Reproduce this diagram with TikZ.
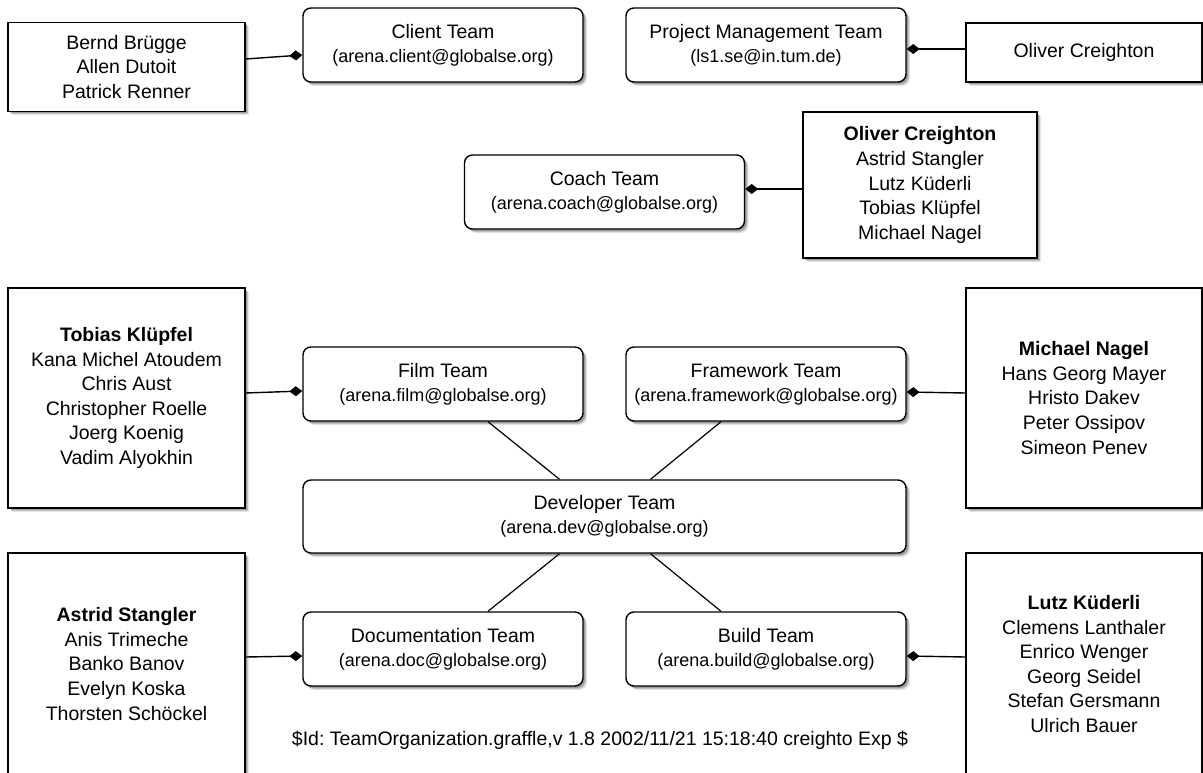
\documentclass[tikz,border=0pt]{standalone}
\usepackage{fontspec}
\setmainfont{Liberation Sans}
\usetikzlibrary{shadows,arrows.meta}
\frenchspacing
\newcommand{\mailtxt}[1]{{\fontsize{18}{24}\selectfont #1}}
\tikzset{
  basebox/.style={draw=black, line width=1.4pt, fill=white, inner sep=0pt, align=center,
    drop shadow={shadow xshift=4pt, shadow yshift=-4pt, opacity=0.10, fill=black},
    drop shadow={shadow xshift=3pt, shadow yshift=-3pt, opacity=0.15, fill=black},
    drop shadow={shadow xshift=2pt, shadow yshift=-2pt, opacity=0.2, fill=black}},
  teambox/.style={basebox, rounded corners=8pt, minimum width=280pt, minimum height=74pt,
    font=\fontsize{19.5}{24}\selectfont},
  personbox/.style={basebox, minimum width=237pt, font=\fontsize{19.5}{24.6}\selectfont},
  comp/.style={line width=1.4pt, -{Diamond[length=13pt,width=10pt]}},
  link/.style={line width=1.2pt},
  idtext/.style={font=\fontsize{19.5}{24}\selectfont\frenchspacing, inner sep=0pt}
}
\begin{document}
\begin{tikzpicture}[x=1pt,y=-1pt]
\useasboundingbox (0,0) rectangle (1203,773);
\clip (0,0) rectangle (1203,773);
% team boxes
\node[teambox] (client) at (443,45) {Client Team\\\mailtxt{(arena.client@globalse.org)}};
\node[teambox] (pm) at (766,45) {Project Management Team\\\mailtxt{(ls1.se@in.tum.de)}};
\node[teambox] (coach) at (604.5,192) {Coach Team\\\mailtxt{(arena.coach@globalse.org)}};
\node[teambox] (film) at (443,384) {Film Team\\\mailtxt{(arena.film@globalse.org)}};
\node[teambox] (framework) at (766,384) {Framework Team\\\mailtxt{(arena.framework@globalse.org)}};
\node[teambox, minimum width=603pt, minimum height=73pt] (dev) at (604.5,516.5) {Developer Team\\\mailtxt{(arena.dev@globalse.org)}};
\node[teambox] (doc) at (443,649) {Documentation Team\\\mailtxt{(arena.doc@globalse.org)}};
\node[teambox] (build) at (766,649) {Build Team\\\mailtxt{(arena.build@globalse.org)}};
% person boxes
\node[personbox, minimum height=89pt] (bernd) at (126.5,67) {Bernd Brügge\\Allen Dutoit\\Patrick Renner};
\node[personbox, minimum width=236pt, minimum height=59pt] (olivers) at (1084,52.5) {Oliver Creighton};
\node[personbox, minimum width=234pt, minimum height=146pt] (oliverl) at (920,185) {\textbf{Oliver Creighton}\\Astrid Stangler\\Lutz Küderli\\Tobias Klüpfel\\Michael Nagel};
\node[personbox, minimum height=220pt] (tobias) at (126.5,398) {\textbf{Tobias Klüpfel}\\Kana Michel Atoudem\\Chris Aust\\Christopher Roelle\\Joerg Koenig\\Vadim Alyokhin};
\node[personbox, minimum width=236pt, minimum height=220pt] (michael) at (1084,398) {\textbf{Michael Nagel}\\Hans Georg Mayer\\Hristo Dakev\\Peter Ossipov\\Simeon Penev};
\node[personbox, minimum height=222pt] (astrid) at (126.5,664) {\textbf{Astrid Stangler}\\Anis Trimeche\\Banko Banov\\Evelyn Koska\\Thorsten Schöckel};
\node[personbox, minimum width=236pt, minimum height=222pt] (lutz) at (1084,664) {\textbf{Lutz Küderli}\\Clemens Lanthaler\\Enrico Wenger\\Georg Seidel\\Stefan Gersmann\\Ulrich Bauer};
% id text
\node[idtext] (idline) at (600,740) {\$Id: TeamOrganization.graffle,v 1.8 2002/11/21 15:18:40 creighto Exp \$};
% composition connectors
\draw[comp] ([yshift=8pt]bernd.east) -- ([yshift=-10pt]client.west);
\draw[comp] ([yshift=3.5pt]olivers.west) -- ([yshift=-4pt]pm.east);
\draw[comp] ([yshift=-4pt]oliverl.west) -- ([yshift=3pt]coach.east);
\draw[comp] ([yshift=5pt]tobias.east) -- ([yshift=-7pt]film.west);
\draw[comp] ([yshift=5pt]michael.west) -- ([yshift=-8pt]framework.east);
\draw[comp] ([yshift=7pt]astrid.east) -- ([yshift=-7pt]doc.west);
\draw[comp] ([yshift=7pt]lutz.west) -- ([yshift=-7pt]build.east);
% links
\draw[link] ([xshift=45pt]film.south) -- ([xshift=-45pt]dev.north);
\draw[link] ([xshift=-45pt]framework.south) -- ([xshift=46pt]dev.north);
\draw[link] ([xshift=-45pt]dev.south) -- ([xshift=45pt]doc.north);
\draw[link] ([xshift=46pt]dev.south) -- ([xshift=-45pt]build.north);
\end{tikzpicture}
\end{document}
